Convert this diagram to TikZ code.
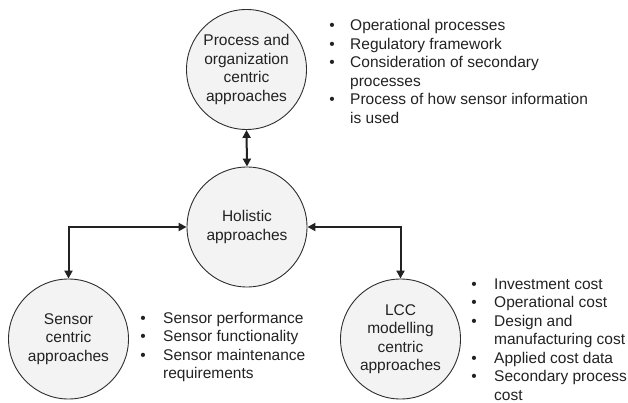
\documentclass[tikz,border=0pt]{standalone}
\usepackage{fontspec}
\setmainfont{Liberation Sans}
\usetikzlibrary{arrows.meta}

\definecolor{ink}{HTML}{222222}
\definecolor{rim}{HTML}{2E2E2E}
\definecolor{disc}{HTML}{F3F3F3}

% bullet sitting at the left edge of a column of the given width
\newcommand{\bul}[1]{\makebox[#1][l]{\makebox[0pt][c]{•}}}
\newcommand{\nobul}[1]{\makebox[#1][l]{}}

\begin{document}
\begin{tikzpicture}[x=1pt,y=-1pt,
  every node/.style={text=ink,font=\fontsize{15.5}{18.5}\selectfont},
  approach/.style={circle,draw=rim,line width=0.9pt,fill=disc,
    minimum size=120pt,inner sep=0pt,align=center},
  biarrow/.style={draw=ink,line width=2pt,
    {Triangle[length=8pt,width=8pt]}-{Triangle[length=8pt,width=8pt]}},
  notes/.style={anchor=north west,inner sep=0pt}]

\useasboundingbox (0,0) rectangle (628,403);

% the four approach circles
\node[approach] (proc) at (246.5,69.5) {Process and\\organization\\centric\\approaches};
\node[approach] (hol)  at (247,227)    {Holistic\\approaches};
\node[approach] (sens) at (68.5,339)   {Sensor\\centric\\approaches};
\node[approach] (lcc)  at (400.5,339)  {LCC\\modelling\\centric\\approaches};

% two-way links to the holistic view
\draw[biarrow] (proc.south) -- (hol.north);
\draw[biarrow] (hol.west) -| (sens.north);
\draw[biarrow] (hol.east) -| (lcc.north);

% bullet lists beside each circle
\node[notes] (procnotes) at (332,17.5) {%
  \begin{tabular}{@{}l@{}l@{}}
  \bul{18pt} & Operational processes\\
  \bul{18pt} & Regulatory framework\\
  \bul{18pt} & Consideration of secondary\\
  \nobul{18pt} & processes\\
  \bul{18pt} & Process of how sensor information\\
  \nobul{18pt} & is used
  \end{tabular}};

\node[notes] (sensnotes) at (143,310) {%
  \begin{tabular}{@{}l@{}l@{}}
  \bul{20pt} & Sensor performance\\
  \bul{20pt} & Sensor functionality\\
  \bul{20pt} & Sensor maintenance\\
  \nobul{20pt} & requirements
  \end{tabular}};

\node[notes] (lccnotes) at (474,276) {%
  \begin{tabular}{@{}l@{}l@{}}
  \bul{20pt} & Investment cost\\
  \bul{20pt} & Operational cost\\
  \bul{20pt} & Design and\\
  \nobul{20pt} & manufacturing cost\\
  \bul{20pt} & Applied cost data\\
  \bul{20pt} & Secondary process\\
  \nobul{20pt} & cost
  \end{tabular}};
\end{tikzpicture}
\end{document}
